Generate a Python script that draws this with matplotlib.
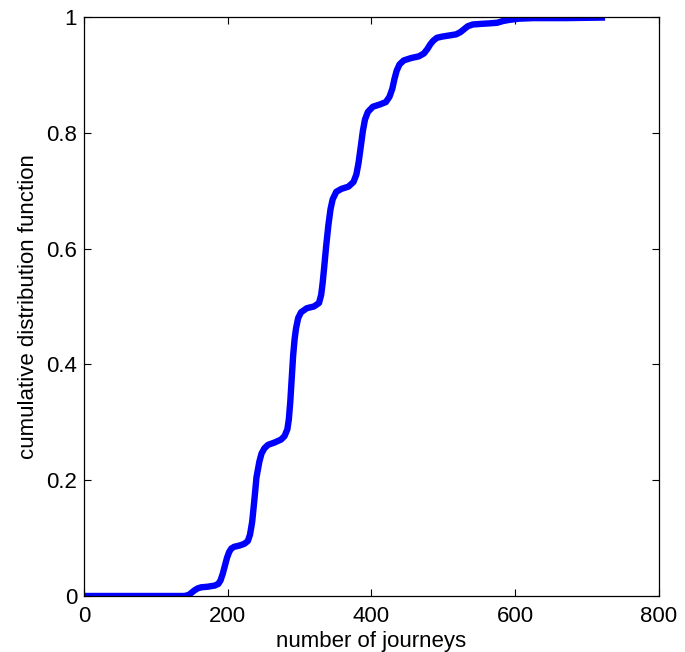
import matplotlib
matplotlib.use("Agg")
import matplotlib.pyplot as plt

plt.rcParams["font.family"] = ["Liberation Sans", "DejaVu Sans"]

# points (number of journeys, cumulative fraction)
journeys = [0, 140, 146, 150, 154, 158, 163, 172, 182, 187, 190, 193, 196,
            199, 202, 205, 209, 216, 223, 228, 231, 234, 237, 240, 244, 247,
            251, 256, 265, 274, 279, 283, 285, 287, 289, 291, 293, 295, 298,
            302, 310, 320, 327, 330, 332, 334, 337, 340, 343, 346, 351, 358,
            368, 375, 379, 382, 385, 388, 391, 395, 402, 412, 420, 425, 429,
            432, 435, 439, 445, 455, 466, 473, 478, 482, 486, 491, 498, 508,
            518, 524, 529, 534, 541, 552, 565, 575, 583, 592, 605, 625, 670,
            725]
cdf = [0.0, 0.0, 0.002, 0.006, 0.010, 0.013, 0.015, 0.016, 0.018, 0.021,
       0.027, 0.038, 0.052, 0.066, 0.076, 0.082, 0.085, 0.087, 0.090, 0.095,
       0.106, 0.128, 0.165, 0.205, 0.232, 0.246, 0.255, 0.261, 0.265, 0.270,
       0.276, 0.288, 0.305, 0.335, 0.375, 0.415, 0.443, 0.462, 0.480, 0.490,
       0.497, 0.500, 0.506, 0.520, 0.540, 0.565, 0.605, 0.640, 0.668, 0.685,
       0.698, 0.703, 0.707, 0.715, 0.728, 0.748, 0.775, 0.803, 0.823, 0.836,
       0.845, 0.849, 0.853, 0.862, 0.876, 0.893, 0.907, 0.918, 0.925, 0.929,
       0.932, 0.937, 0.945, 0.953, 0.959, 0.964, 0.966, 0.968, 0.970, 0.974,
       0.979, 0.984, 0.987, 0.988, 0.989, 0.990, 0.993, 0.995, 0.997, 0.998,
       0.998, 0.999]

xticks = [0, 200, 400, 600, 800]
yticks = [0, 0.2, 0.4, 0.6, 0.8, 1.0]
yticklabels = ["0", "0.2", "0.4", "0.6", "0.8", "1"]

fig = plt.figure(figsize=(6.85, 6.52), dpi=100)
ax = fig.add_axes([0.1226, 0.0859, 0.962 - 0.1226, 0.974 - 0.0859])
ax.plot(journeys, cdf, color="#0000ff", linewidth=4.6,
        solid_joinstyle="round", solid_capstyle="butt")

ax.set_xlim(0, 800)
ax.set_ylim(0, 1)
ax.set_xticks(xticks)
ax.set_yticks(yticks)
ax.set_yticklabels(yticklabels)
ax.tick_params(direction="in", top=True, right=True, length=5, width=0.8,
               labelsize=16)
ax.tick_params(axis="x", pad=7)
ax.tick_params(axis="y", pad=5)
for s in ax.spines.values():
    s.set_linewidth(0.9)
ax.set_xlabel("number of journeys", fontsize=16, labelpad=3)
ax.set_ylabel("cumulative distribution function", fontsize=16, labelpad=5)

fig.savefig("out.png", dpi=100)
